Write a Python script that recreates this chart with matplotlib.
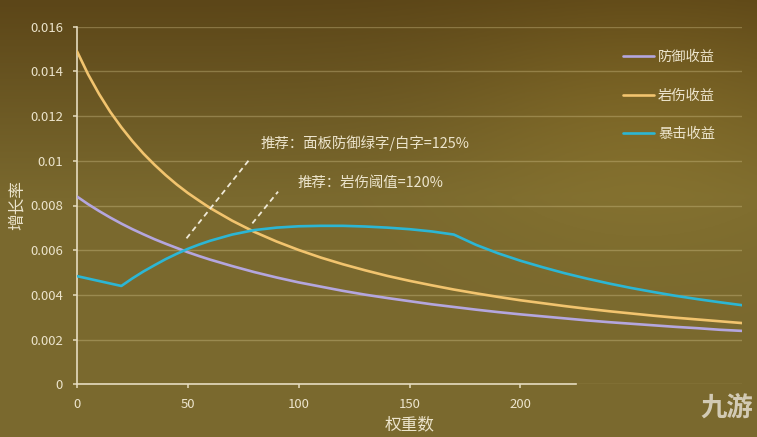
import numpy as np
import matplotlib
matplotlib.use('Agg')
import matplotlib.pyplot as plt

plt.rcParams['font.family'] = ['Noto Sans CJK SC', 'DejaVu Sans']

# ---------------- data ----------------
x_vals = [0, 5, 10, 15, 20, 25, 30, 35, 40, 45, 50, 55, 60, 70, 80, 90, 100, 110,
          120, 130, 140, 150, 160, 170, 180, 190, 200, 210, 220, 230, 240, 250,
          260, 270, 280, 290, 300]
defense = [0.00840, 0.00806, 0.00775, 0.00746, 0.00719, 0.00694, 0.00671, 0.00649,
           0.00629, 0.00610, 0.00591, 0.00574, 0.00558, 0.00529, 0.00502, 0.00478,
           0.00456, 0.00437, 0.00418, 0.00401, 0.00386, 0.00372, 0.00358, 0.00346,
           0.00334, 0.00323, 0.00313, 0.00304, 0.00295, 0.00286, 0.00278, 0.00271,
           0.00264, 0.00257, 0.00251, 0.00244, 0.00239]
rock = [0.01490, 0.01387, 0.01298, 0.01219, 0.01150, 0.01088, 0.01032, 0.00982,
        0.00936, 0.00894, 0.00856, 0.00822, 0.00789, 0.00732, 0.00682, 0.00639,
        0.00601, 0.00567, 0.00537, 0.00510, 0.00485, 0.00463, 0.00443, 0.00424,
        0.00407, 0.00391, 0.00376, 0.00363, 0.00350, 0.00338, 0.00327, 0.00317,
        0.00307, 0.00298, 0.00290, 0.00282, 0.00274]
crit = [0.00484, 0.00473, 0.00462, 0.00451, 0.00440, 0.00474, 0.00505, 0.00533,
        0.00560, 0.00584, 0.00606, 0.00625, 0.00642, 0.00670, 0.00690, 0.00701,
        0.00707, 0.00709, 0.00709, 0.00706, 0.00701, 0.00694, 0.00684, 0.00670,
        0.00624, 0.00586, 0.00553, 0.00524, 0.00497, 0.00473, 0.00451, 0.00431,
        0.00413, 0.00396, 0.00381, 0.00367, 0.00354]
series_names = ['防御收益', '岩伤收益', '暴击收益']
x_ticks = [0, 50, 100, 150, 200]
y_ticks = [0, 0.002, 0.004, 0.006, 0.008, 0.01, 0.012, 0.014, 0.016]
y_tick_labels = ['0', '0.002', '0.004', '0.006', '0.008', '0.01', '0.012', '0.014', '0.016']
x_label = '权重数'
y_label = '增长率'
note1 = '推荐：面板防御绿字/白字=125%'
note2 = '推荐：岩伤阈值=120%'
note1_line_x = [49.4, 77.9]
note1_line_y = [0.00653, 0.01007]
note2_line_x = [79.1, 90.7]
note2_line_y = [0.00720, 0.00862]

# ---------------- style ----------------
colors = ['#b4a6de', '#f2c46e', '#2cb6d4']
txt = '#ece4cc'
W, H = 757, 437
fig = plt.figure(figsize=(W / 100, H / 100), dpi=100)

# background gradient
bg = fig.add_axes([0, 0, 1, 1], zorder=-10)
bg.set_axis_off()
ny, nx = 200, 300
yy, xx = np.mgrid[0:1:ny * 1j, 0:1:nx * 1j]
top = np.array([0x5c, 0x46, 0x18]) / 255
mid = np.array([0x7a, 0x69, 0x2e]) / 255
t = np.clip(yy / 0.45, 0, 1)[..., None]
img = top * (1 - t) + mid * t
glow = np.exp(-(((xx - 0.85) / 0.25) ** 2 + ((yy - 0.25) / 0.3) ** 2))[..., None]
img = img + glow * np.array([0.06, 0.05, 0.01])
img = np.clip(img, 0, 1)
bg.imshow(img, aspect='auto', extent=[0, 1, 0, 1], origin='upper')
bg.set_xlim(0, 1)
bg.set_ylim(0, 1)

left, right = 77 / W, 742 / W
bottom, topf = (H - 384.3) / H, (H - 26.7) / H
ax = fig.add_axes([left, bottom, right - left, topf - bottom])
ax.patch.set_alpha(0)

for vals, c, name in zip([defense, rock, crit], colors, series_names):
    ax.plot(x_vals, vals, color=c, lw=1.9, label=name, solid_capstyle='round',
            solid_joinstyle='round', zorder=3)

ax.plot(note1_line_x, note1_line_y, color='#f0ead8', lw=1.3, ls=(0, (3, 2.2)), zorder=4)
ax.plot(note2_line_x, note2_line_y, color='#f0ead8', lw=1.3, ls=(0, (3, 2.2)), zorder=4)
ax.text(83, 0.01078, note1, color=txt, fontsize=10.4, va='center', ha='left')
ax.text(99.7, 0.00900, note2, color=txt, fontsize=10.4, va='center', ha='left')

ax.set_xlim(0, 300)
ax.set_ylim(0, 0.016)
ax.set_xticks(x_ticks)
ax.set_xticklabels([str(v) for v in x_ticks])
ax.set_yticks(y_ticks)
ax.set_yticklabels(y_tick_labels)
ax.grid(axis='y', color='#d8c890', alpha=0.35, lw=1)
ax.set_axisbelow(True)
for s in ['top', 'right']:
    ax.spines[s].set_visible(False)
for s in ['left', 'bottom']:
    ax.spines[s].set_color('#e6dcc0')
    ax.spines[s].set_linewidth(1.2)
ax.spines['bottom'].set_bounds(0, 225)
ax.tick_params(axis='both', colors='#e6dcc0', labelcolor=txt, labelsize=9.5,
               length=3, width=1.1)
ax.tick_params(axis='y', pad=7)
ax.tick_params(axis='x', pad=7)
ax.set_xlabel(x_label, color=txt, fontsize=12, labelpad=4)
ax.set_ylabel(y_label, color=txt, fontsize=12, labelpad=3)

leg = fig.legend(loc='upper left', bbox_to_anchor=(623 / W, (H - 50) / H),
                 frameon=False, fontsize=10.3, labelcolor=txt, handlelength=2.2,
                 handletextpad=0.25, labelspacing=1.72, borderpad=0, borderaxespad=0)

fig.text(727 / W, (H - 408) / H, '九游', color='#ddd6c4', fontsize=19,
         fontweight='bold', style='italic', ha='center', va='center', alpha=0.9)

fig.savefig('out.png', dpi=100)
